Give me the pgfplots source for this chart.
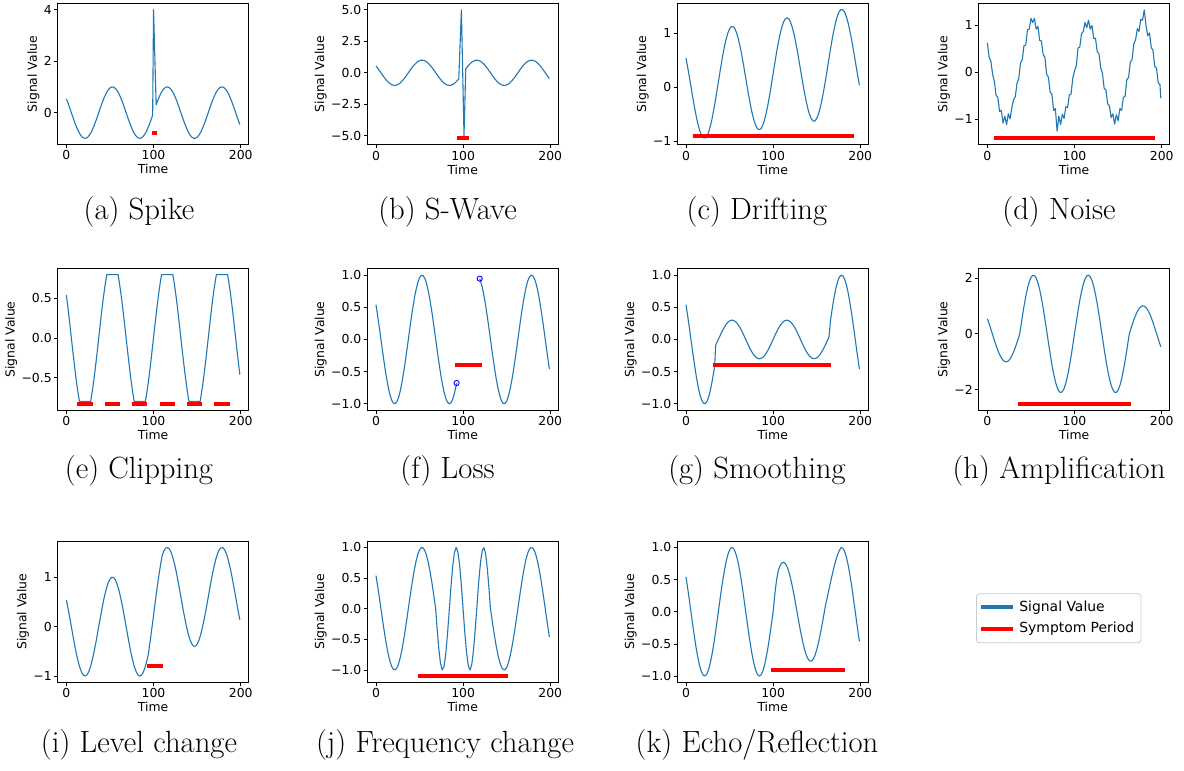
\documentclass[border=0pt]{standalone}
\usepackage{fontspec}
\usepackage{pgfplots}
\pgfplotsset{compat=1.18}
\newfontfamily\dv{DejaVu Sans}
\definecolor{mplblue}{HTML}{1F77B4}
\pgfplotsset{
  panel/.style={scale only axis, width=95.4pt, height=70.75pt, anchor=north west,
    xmin=-9.95, xmax=208.95, xtick={0,100,200}, xticklabels={0,100,200},
    tick pos=left, tick align=outside, major tick length=1.8pt,
    tick style={black, line width=0.4pt}, axis line style={black, line width=0.45pt},
    ticklabel style={font=\dv\fontsize{6.2}{7}\selectfont, inner sep=1pt},
    label style={font=\dv\fontsize{6.2}{7}\selectfont, inner sep=1pt},
    xlabel={Time}, ylabel={Signal Value}},
  sig/.style={mplblue, line width=0.55pt, line join=round, no markers},
  sym/.style={red, line width=2pt, line cap=rect, no markers},
  leg/.style={legend image code/.code={\draw[##1] (0pt,0pt) -- (16pt,0pt);}},
}
\newcommand{\capt}[1]{\fontsize{15.35}{18}\selectfont #1}
\begin{document}
\begin{tikzpicture}
\useasboundingbox (0,0) rectangle (592pt,-385.5pt);
% (a) Spike
\begin{axis}[panel, at={(28.85pt,-1.65pt)}, ymin=-1.25, ymax=4.25, ytick={0,2,4}, yticklabels={0,2,4}]
\addplot[sig] table[row sep=\\] {0 0.540\\ 2 0.362\\ 4 0.170\\ 6 -0.029\\ 8 -0.227\\ 10 -0.416\\ 12 -0.589\\ 14 -0.737\\ 16 -0.857\\ 18 -0.942\\ 20 -0.990\\ 22 -0.998\\ 24 -0.967\\ 26 -0.897\\ 28 -0.791\\ 30 -0.654\\ 32 -0.490\\ 34 -0.307\\ 36 -0.112\\ 38 0.088\\ 40 0.284\\ 42 0.469\\ 44 0.635\\ 46 0.776\\ 48 0.886\\ 50 0.960\\ 52 0.997\\ 54 0.993\\ 56 0.950\\ 58 0.869\\ 60 0.754\\ 62 0.608\\ 64 0.439\\ 66 0.251\\ 68 0.054\\ 70 -0.146\\ 72 -0.339\\ 74 -0.519\\ 76 -0.679\\ 78 -0.811\\ 80 -0.911\\ 82 -0.975\\ 84 -1.000\\ 86 -0.985\\ 88 -0.930\\ 90 -0.839\\ 92 -0.714\\ 94 -0.561\\ 96 -0.385\\ 98 -0.194\\ 99 -0.096\\ 100 4.0\\ 103 0.300\\ 104 0.394\\ 106 0.568\\ 108 0.720\\ 110 0.844\\ 112 0.934\\ 114 0.986\\ 116 0.999\\ 118 0.973\\ 120 0.907\\ 122 0.806\\ 124 0.672\\ 126 0.513\\ 128 0.331\\ 130 0.137\\ 132 -0.063\\ 134 -0.260\\ 136 -0.446\\ 138 -0.615\\ 140 -0.760\\ 142 -0.873\\ 144 -0.953\\ 146 -0.995\\ 148 -0.997\\ 150 -0.958\\ 152 -0.880\\ 154 -0.767\\ 156 -0.624\\ 158 -0.459\\ 160 -0.275\\ 162 -0.080\\ 164 0.121\\ 166 0.315\\ 168 0.499\\ 170 0.660\\ 172 0.799\\ 174 0.904\\ 176 0.969\\ 178 0.999\\ 180 0.989\\ 182 0.939\\ 184 0.852\\ 186 0.731\\ 188 0.581\\ 190 0.408\\ 192 0.219\\ 194 0.020\\ 196 -0.179\\ 198 -0.371\\ 199 -0.461\\};
\addplot[sym] coordinates {(100,-0.8) (102,-0.8)};
\end{axis}
% (b) S-Wave
\begin{axis}[panel, at={(183.65pt,-1.65pt)}, ymin=-5.71, ymax=5.51, ytick={-5,-2.5,0,2.5,5}, yticklabels={−5.0,−2.5,0.0,2.5,5.0}]
\addplot[sig] table[row sep=\\] {0 0.540\\ 2 0.362\\ 4 0.170\\ 6 -0.029\\ 8 -0.227\\ 10 -0.416\\ 12 -0.589\\ 14 -0.737\\ 16 -0.857\\ 18 -0.942\\ 20 -0.990\\ 22 -0.998\\ 24 -0.967\\ 26 -0.897\\ 28 -0.791\\ 30 -0.654\\ 32 -0.490\\ 34 -0.307\\ 36 -0.112\\ 38 0.088\\ 40 0.284\\ 42 0.469\\ 44 0.635\\ 46 0.776\\ 48 0.886\\ 50 0.960\\ 52 0.997\\ 54 0.993\\ 56 0.950\\ 58 0.869\\ 60 0.754\\ 62 0.608\\ 64 0.439\\ 66 0.251\\ 68 0.054\\ 70 -0.146\\ 72 -0.339\\ 74 -0.519\\ 76 -0.679\\ 78 -0.811\\ 80 -0.911\\ 82 -0.975\\ 84 -1.000\\ 86 -0.985\\ 88 -0.930\\ 90 -0.839\\ 92 -0.714\\ 94 -0.561\\ 95 -0.474\\ 98 5.0\\ 101 -5.0\\ 103 0.300\\ 104 0.394\\ 106 0.568\\ 108 0.720\\ 110 0.844\\ 112 0.934\\ 114 0.986\\ 116 0.999\\ 118 0.973\\ 120 0.907\\ 122 0.806\\ 124 0.672\\ 126 0.513\\ 128 0.331\\ 130 0.137\\ 132 -0.063\\ 134 -0.260\\ 136 -0.446\\ 138 -0.615\\ 140 -0.760\\ 142 -0.873\\ 144 -0.953\\ 146 -0.995\\ 148 -0.997\\ 150 -0.958\\ 152 -0.880\\ 154 -0.767\\ 156 -0.624\\ 158 -0.459\\ 160 -0.275\\ 162 -0.080\\ 164 0.121\\ 166 0.315\\ 168 0.499\\ 170 0.660\\ 172 0.799\\ 174 0.904\\ 176 0.969\\ 178 0.999\\ 180 0.989\\ 182 0.939\\ 184 0.852\\ 186 0.731\\ 188 0.581\\ 190 0.408\\ 192 0.219\\ 194 0.020\\ 196 -0.179\\ 198 -0.371\\ 199 -0.461\\};
\addplot[sym] coordinates {(95,-5.2) (104,-5.2)};
\end{axis}
% (c) Drifting
\begin{axis}[panel, at={(338.65pt,-1.65pt)}, ymin=-1.07, ymax=1.56, ytick={-1,0,1}, yticklabels={−1,0,1}]
\addplot[sig] table[row sep=\\] {0 0.540\\ 2 0.367\\ 4 0.180\\ 6 -0.014\\ 8 -0.207\\ 10 -0.391\\ 12 -0.559\\ 14 -0.702\\ 16 -0.817\\ 18 -0.897\\ 20 -0.940\\ 22 -0.943\\ 24 -0.907\\ 26 -0.832\\ 28 -0.721\\ 30 -0.579\\ 32 -0.410\\ 34 -0.222\\ 36 -0.022\\ 38 0.183\\ 40 0.384\\ 42 0.574\\ 44 0.745\\ 46 0.891\\ 48 1.006\\ 50 1.085\\ 52 1.127\\ 54 1.128\\ 56 1.090\\ 58 1.014\\ 60 0.904\\ 62 0.763\\ 64 0.599\\ 66 0.416\\ 68 0.224\\ 70 0.030\\ 72 -0.159\\ 74 -0.334\\ 76 -0.489\\ 78 -0.616\\ 80 -0.711\\ 82 -0.770\\ 84 -0.790\\ 86 -0.770\\ 88 -0.710\\ 90 -0.614\\ 92 -0.484\\ 94 -0.326\\ 96 -0.145\\ 98 0.051\\ 100 0.254\\ 102 0.458\\ 104 0.654\\ 106 0.833\\ 108 0.990\\ 110 1.119\\ 112 1.214\\ 114 1.271\\ 116 1.289\\ 118 1.268\\ 120 1.207\\ 122 1.111\\ 124 0.982\\ 126 0.828\\ 128 0.651\\ 130 0.462\\ 132 0.267\\ 134 0.075\\ 136 -0.106\\ 138 -0.270\\ 140 -0.410\\ 142 -0.518\\ 144 -0.593\\ 146 -0.630\\ 148 -0.627\\ 150 -0.583\\ 152 -0.500\\ 154 -0.382\\ 156 -0.234\\ 158 -0.064\\ 160 0.125\\ 162 0.326\\ 164 0.531\\ 166 0.730\\ 168 0.919\\ 170 1.085\\ 172 1.229\\ 174 1.339\\ 176 1.409\\ 178 1.444\\ 180 1.439\\ 182 1.394\\ 184 1.312\\ 186 1.196\\ 188 1.051\\ 190 0.883\\ 192 0.699\\ 194 0.505\\ 196 0.312\\ 198 0.124\\ 199 0.036\\};
\addplot[sym] coordinates {(10,-0.9) (190,-0.9)};
\end{axis}
% (d) Noise
\begin{axis}[panel, at={(489.35pt,-1.65pt)}, ymin=-1.55, ymax=1.46, ytick={-1,0,1}, yticklabels={−1,0,1}]
\addplot[sig] table[row sep=\\] {0 0.62\\ 2 0.31\\ 4 0.23\\ 6 -0.05\\ 8 -0.20\\ 10 -0.50\\ 12 -0.54\\ 14 -0.84\\ 16 -0.82\\ 18 -1.09\\ 20 -0.94\\ 22 -1.12\\ 24 -0.89\\ 26 -1.00\\ 28 -0.77\\ 30 -0.59\\ 32 -0.53\\ 34 -0.24\\ 36 -0.14\\ 38 0.19\\ 40 0.26\\ 42 0.56\\ 44 0.57\\ 46 0.90\\ 48 0.91\\ 50 1.14\\ 52 1.05\\ 54 1.14\\ 56 0.91\\ 58 0.97\\ 60 0.67\\ 62 0.66\\ 64 0.37\\ 66 0.31\\ 68 -0.05\\ 70 -0.11\\ 72 -0.43\\ 74 -0.47\\ 76 -0.82\\ 78 -0.78\\ 80 -1.26\\ 82 -0.94\\ 84 -1.12\\ 86 -0.90\\ 88 -0.99\\ 90 -0.74\\ 92 -0.76\\ 94 -0.49\\ 96 -0.47\\ 98 -0.13\\ 100 0.02\\ 102 0.13\\ 104 0.51\\ 106 0.53\\ 108 0.81\\ 110 0.86\\ 112 1.05\\ 114 0.94\\ 116 1.10\\ 118 0.91\\ 120 0.99\\ 122 0.71\\ 124 0.72\\ 126 0.43\\ 128 0.39\\ 130 0.09\\ 132 -0.03\\ 134 -0.35\\ 136 -0.38\\ 138 -0.68\\ 140 -0.72\\ 142 -0.97\\ 144 -0.89\\ 146 -1.11\\ 148 -0.91\\ 150 -1.04\\ 152 -0.78\\ 154 -0.82\\ 156 -0.54\\ 158 -0.52\\ 160 -0.16\\ 162 -0.12\\ 164 0.21\\ 166 0.26\\ 168 0.60\\ 170 0.68\\ 172 0.92\\ 174 0.86\\ 176 1.12\\ 178 1.10\\ 180 1.32\\ 182 0.99\\ 184 0.77\\ 186 0.83\\ 188 0.52\\ 190 0.46\\ 192 0.12\\ 194 0.08\\ 196 -0.23\\ 198 -0.27\\ 199 -0.56\\};
\addplot[sym] coordinates {(10,-1.4) (190,-1.4)};
\end{axis}
% (e) Clipping
\begin{axis}[panel, at={(28.85pt,-134.35pt)}, ymin=-0.912, ymax=0.874, ytick={-0.5,0,0.5}, yticklabels={−0.5,0.0,0.5}]
\addplot[sig] table[row sep=\\] {0 0.540\\ 2 0.362\\ 4 0.170\\ 6 -0.029\\ 8 -0.227\\ 10 -0.416\\ 12 -0.589\\ 14 -0.737\\ 15 -0.8\\ 27.85 -0.8\\ 28 -0.791\\ 30 -0.654\\ 32 -0.490\\ 34 -0.307\\ 36 -0.112\\ 38 0.088\\ 40 0.284\\ 42 0.469\\ 44 0.635\\ 46 0.776\\ 46.4 0.8\\ 59.3 0.8\\ 60 0.754\\ 62 0.608\\ 64 0.439\\ 66 0.251\\ 68 0.054\\ 70 -0.146\\ 72 -0.339\\ 74 -0.519\\ 76 -0.679\\ 77.8 -0.8\\ 90.7 -0.8\\ 92 -0.714\\ 94 -0.561\\ 96 -0.385\\ 98 -0.194\\ 100 0.004\\ 102 0.203\\ 104 0.394\\ 106 0.568\\ 108 0.720\\ 109.2 0.8\\ 122.1 0.8\\ 124 0.672\\ 126 0.513\\ 128 0.331\\ 130 0.137\\ 132 -0.063\\ 134 -0.260\\ 136 -0.446\\ 138 -0.615\\ 140 -0.760\\ 140.7 -0.8\\ 153.5 -0.8\\ 154 -0.767\\ 156 -0.624\\ 158 -0.459\\ 160 -0.275\\ 162 -0.080\\ 164 0.121\\ 166 0.315\\ 168 0.499\\ 170 0.660\\ 172.1 0.8\\ 185.0 0.8\\ 186 0.731\\ 188 0.581\\ 190 0.408\\ 192 0.219\\ 194 0.020\\ 196 -0.179\\ 198 -0.371\\ 199 -0.461\\};
\addplot[sym] coordinates {(15,-0.84) (27.85,-0.84)};
\addplot[sym] coordinates {(46.4,-0.84) (59.3,-0.84)};
\addplot[sym] coordinates {(77.8,-0.84) (90.7,-0.84)};
\addplot[sym] coordinates {(109.2,-0.84) (122.1,-0.84)};
\addplot[sym] coordinates {(140.7,-0.84) (153.5,-0.84)};
\addplot[sym] coordinates {(172.1,-0.84) (185,-0.84)};
\end{axis}
% (f) Loss
\begin{axis}[panel, at={(183.65pt,-134.35pt)}, ymin=-1.1, ymax=1.1, ytick={-1,-0.5,0,0.5,1}, yticklabels={−1.0,−0.5,0.0,0.5,1.0}]
\addplot[sig] table[row sep=\\] {0 0.540\\ 2 0.362\\ 4 0.170\\ 6 -0.029\\ 8 -0.227\\ 10 -0.416\\ 12 -0.589\\ 14 -0.737\\ 16 -0.857\\ 18 -0.942\\ 20 -0.990\\ 22 -0.998\\ 24 -0.967\\ 26 -0.897\\ 28 -0.791\\ 30 -0.654\\ 32 -0.490\\ 34 -0.307\\ 36 -0.112\\ 38 0.088\\ 40 0.284\\ 42 0.469\\ 44 0.635\\ 46 0.776\\ 48 0.886\\ 50 0.960\\ 52 0.997\\ 54 0.993\\ 56 0.950\\ 58 0.869\\ 60 0.754\\ 62 0.608\\ 64 0.439\\ 66 0.251\\ 68 0.054\\ 70 -0.146\\ 72 -0.339\\ 74 -0.519\\ 76 -0.679\\ 78 -0.811\\ 80 -0.911\\ 82 -0.975\\ 84 -1.000\\ 86 -0.985\\ 88 -0.930\\ 90 -0.839\\ 92 -0.714\\ 92.5 -0.678\\};
\addplot[sig] table[row sep=\\] {119 0.945\\ 120 0.907\\ 122 0.806\\ 124 0.672\\ 126 0.513\\ 128 0.331\\ 130 0.137\\ 132 -0.063\\ 134 -0.260\\ 136 -0.446\\ 138 -0.615\\ 140 -0.760\\ 142 -0.873\\ 144 -0.953\\ 146 -0.995\\ 148 -0.997\\ 150 -0.958\\ 152 -0.880\\ 154 -0.767\\ 156 -0.624\\ 158 -0.459\\ 160 -0.275\\ 162 -0.080\\ 164 0.121\\ 166 0.315\\ 168 0.499\\ 170 0.660\\ 172 0.799\\ 174 0.904\\ 176 0.969\\ 178 0.999\\ 180 0.989\\ 182 0.939\\ 184 0.852\\ 186 0.731\\ 188 0.581\\ 190 0.408\\ 192 0.219\\ 194 0.020\\ 196 -0.179\\ 198 -0.371\\ 199 -0.461\\};
\addplot[only marks, mark=o, mark size=1.3pt, blue, mark options={line width=0.45pt}] coordinates {(92.5,-0.678) (119,0.945)};
\addplot[sym] coordinates {(93,-0.4) (119,-0.4)};
\end{axis}
% (g) Smoothing
\begin{axis}[panel, at={(338.65pt,-134.35pt)}, ymin=-1.1, ymax=1.1, ytick={-1,-0.5,0,0.5,1}, yticklabels={−1.0,−0.5,0.0,0.5,1.0}]
\addplot[sig] table[row sep=\\] {0 0.540\\ 2 0.362\\ 4 0.170\\ 6 -0.029\\ 8 -0.227\\ 10 -0.416\\ 12 -0.589\\ 14 -0.737\\ 16 -0.857\\ 18 -0.942\\ 20 -0.990\\ 22 -0.998\\ 24 -0.967\\ 26 -0.897\\ 28 -0.791\\ 30 -0.654\\ 32 -0.490\\ 33 -0.401\\ 34 -0.092\\ 36 -0.034\\ 38 0.026\\ 40 0.085\\ 42 0.141\\ 44 0.190\\ 46 0.233\\ 48 0.266\\ 50 0.288\\ 52 0.299\\ 54 0.298\\ 56 0.285\\ 58 0.261\\ 60 0.226\\ 62 0.183\\ 64 0.132\\ 66 0.075\\ 68 0.016\\ 70 -0.044\\ 72 -0.102\\ 74 -0.156\\ 76 -0.204\\ 78 -0.243\\ 80 -0.273\\ 82 -0.292\\ 84 -0.300\\ 86 -0.295\\ 88 -0.279\\ 90 -0.252\\ 92 -0.214\\ 94 -0.168\\ 96 -0.116\\ 98 -0.058\\ 100 0.001\\ 102 0.061\\ 104 0.118\\ 106 0.171\\ 108 0.216\\ 110 0.253\\ 112 0.280\\ 114 0.296\\ 116 0.300\\ 118 0.292\\ 120 0.272\\ 122 0.242\\ 124 0.202\\ 126 0.154\\ 128 0.099\\ 130 0.041\\ 132 -0.019\\ 134 -0.078\\ 136 -0.134\\ 138 -0.185\\ 140 -0.228\\ 142 -0.262\\ 144 -0.286\\ 146 -0.298\\ 148 -0.299\\ 150 -0.287\\ 152 -0.264\\ 154 -0.230\\ 156 -0.187\\ 158 -0.138\\ 160 -0.083\\ 162 -0.024\\ 164 0.036\\ 166 0.315\\ 168 0.499\\ 170 0.660\\ 172 0.799\\ 174 0.904\\ 176 0.969\\ 178 0.999\\ 180 0.989\\ 182 0.939\\ 184 0.852\\ 186 0.731\\ 188 0.581\\ 190 0.408\\ 192 0.219\\ 194 0.020\\ 196 -0.179\\ 198 -0.371\\ 199 -0.461\\};
\addplot[sym] coordinates {(33,-0.4) (164,-0.4)};
\end{axis}
% (h) Amplification
\begin{axis}[panel, at={(489.35pt,-134.35pt)}, ymin=-2.73, ymax=2.33, ytick={-2,0,2}, yticklabels={−2,0,2}]
\addplot[sig] table[row sep=\\] {0 0.540\\ 2 0.362\\ 4 0.170\\ 6 -0.029\\ 8 -0.227\\ 10 -0.416\\ 12 -0.589\\ 14 -0.737\\ 16 -0.857\\ 18 -0.942\\ 20 -0.990\\ 22 -0.998\\ 24 -0.967\\ 26 -0.897\\ 28 -0.791\\ 30 -0.654\\ 32 -0.490\\ 34 -0.307\\ 36 -0.112\\ 37 -0.012\\ 38 0.184\\ 40 0.596\\ 42 0.984\\ 44 1.333\\ 46 1.629\\ 48 1.860\\ 50 2.016\\ 52 2.093\\ 54 2.086\\ 56 1.995\\ 58 1.826\\ 60 1.583\\ 62 1.278\\ 64 0.921\\ 66 0.528\\ 68 0.113\\ 70 -0.306\\ 72 -0.712\\ 74 -1.091\\ 76 -1.425\\ 78 -1.703\\ 80 -1.913\\ 82 -2.047\\ 84 -2.099\\ 86 -2.068\\ 88 -1.954\\ 90 -1.762\\ 92 -1.500\\ 94 -1.178\\ 96 -0.809\\ 98 -0.408\\ 100 0.009\\ 102 0.426\\ 104 0.826\\ 106 1.193\\ 108 1.513\\ 110 1.772\\ 112 1.961\\ 114 2.071\\ 116 2.099\\ 118 2.043\\ 120 1.906\\ 122 1.692\\ 124 1.412\\ 126 1.077\\ 128 0.696\\ 130 0.287\\ 132 -0.132\\ 134 -0.546\\ 136 -0.937\\ 138 -1.292\\ 140 -1.595\\ 142 -1.834\\ 144 -2.000\\ 146 -2.089\\ 148 -2.093\\ 150 -2.011\\ 152 -1.847\\ 154 -1.610\\ 156 -1.310\\ 158 -0.964\\ 160 -0.578\\ 162 -0.167\\ 163 0.021\\ 164 0.121\\ 166 0.315\\ 168 0.499\\ 170 0.660\\ 172 0.799\\ 174 0.904\\ 176 0.969\\ 178 0.999\\ 180 0.989\\ 182 0.939\\ 184 0.852\\ 186 0.731\\ 188 0.581\\ 190 0.408\\ 192 0.219\\ 194 0.020\\ 196 -0.179\\ 198 -0.371\\ 199 -0.461\\};
\addplot[sym] coordinates {(37,-2.5) (163,-2.5)};
\end{axis}
% (i) Level change
\begin{axis}[panel, at={(28.85pt,-270.5pt)}, ymin=-1.13, ymax=1.73, ytick={-1,0,1}, yticklabels={−1,0,1}]
\addplot[sig] table[row sep=\\] {0 0.540\\ 2 0.362\\ 4 0.170\\ 6 -0.029\\ 8 -0.227\\ 10 -0.416\\ 12 -0.589\\ 14 -0.737\\ 16 -0.857\\ 18 -0.942\\ 20 -0.990\\ 22 -0.998\\ 24 -0.967\\ 26 -0.897\\ 28 -0.791\\ 30 -0.654\\ 32 -0.490\\ 34 -0.307\\ 36 -0.112\\ 38 0.088\\ 40 0.284\\ 42 0.469\\ 44 0.635\\ 46 0.776\\ 48 0.886\\ 50 0.960\\ 52 0.997\\ 54 0.993\\ 56 0.950\\ 58 0.869\\ 60 0.754\\ 62 0.608\\ 64 0.439\\ 66 0.251\\ 68 0.054\\ 70 -0.146\\ 72 -0.339\\ 74 -0.519\\ 76 -0.679\\ 78 -0.811\\ 80 -0.911\\ 82 -0.975\\ 84 -1.000\\ 86 -0.985\\ 88 -0.930\\ 90 -0.839\\ 92 -0.714\\ 94 -0.561\\ 96 -0.310\\ 98 -0.044\\ 100 0.229\\ 102 0.503\\ 104 0.769\\ 106 1.018\\ 108 1.245\\ 110 1.444\\ 112 1.534\\ 114 1.586\\ 116 1.599\\ 118 1.573\\ 120 1.507\\ 122 1.406\\ 124 1.272\\ 126 1.113\\ 128 0.931\\ 130 0.737\\ 132 0.537\\ 134 0.340\\ 136 0.154\\ 138 -0.015\\ 140 -0.160\\ 142 -0.273\\ 144 -0.353\\ 146 -0.395\\ 148 -0.397\\ 150 -0.358\\ 152 -0.280\\ 154 -0.167\\ 156 -0.024\\ 158 0.141\\ 160 0.325\\ 162 0.520\\ 164 0.721\\ 166 0.915\\ 168 1.099\\ 170 1.260\\ 172 1.399\\ 174 1.504\\ 176 1.569\\ 178 1.599\\ 180 1.589\\ 182 1.539\\ 184 1.452\\ 186 1.331\\ 188 1.181\\ 190 1.008\\ 192 0.819\\ 194 0.620\\ 196 0.421\\ 198 0.229\\ 199 0.139\\};
\addplot[sym] coordinates {(95,-0.8) (109,-0.8)};
\end{axis}
% (j) Frequency change
\begin{axis}[panel, at={(183.65pt,-270.5pt)}, ymin=-1.205, ymax=1.105, ytick={-1,-0.5,0,0.5,1}, yticklabels={−1.0,−0.5,0.0,0.5,1.0}]
\addplot[sig] table[row sep=\\] {0 0.540\\ 2 0.362\\ 4 0.170\\ 6 -0.029\\ 8 -0.227\\ 10 -0.416\\ 12 -0.589\\ 14 -0.737\\ 16 -0.857\\ 18 -0.942\\ 20 -0.990\\ 22 -0.998\\ 24 -0.967\\ 26 -0.897\\ 28 -0.791\\ 30 -0.654\\ 32 -0.490\\ 34 -0.307\\ 36 -0.112\\ 38 0.088\\ 40 0.284\\ 42 0.469\\ 44 0.635\\ 46 0.776\\ 48 0.886\\ 50 0.960\\ 52 0.997\\ 54 0.993\\ 56 0.950\\ 58 0.869\\ 60 0.754\\ 62 0.608\\ 64 0.439\\ 66 0.251\\ 68 0.054\\ 68.5 0.0\\ 70 -0.296\\ 72 -0.644\\ 74 -0.891\\ 76 -0.998\\ 78 -0.946\\ 80 -0.746\\ 82 -0.427\\ 84 -0.042\\ 86 0.351\\ 88 0.688\\ 90 0.916\\ 92 1.000\\ 94 0.926\\ 96 0.706\\ 98 0.374\\ 100 -0.017\\ 102 -0.405\\ 104 -0.729\\ 106 -0.938\\ 108 -0.999\\ 110 -0.902\\ 112 -0.663\\ 114 -0.319\\ 116 0.075\\ 118 0.458\\ 120 0.768\\ 122 0.957\\ 124 0.995\\ 126 0.876\\ 128 0.618\\ 130 0.263\\ 131.3 0.0\\ 132 -0.063\\ 134 -0.260\\ 136 -0.446\\ 138 -0.615\\ 140 -0.760\\ 142 -0.873\\ 144 -0.953\\ 146 -0.995\\ 148 -0.997\\ 150 -0.958\\ 152 -0.880\\ 154 -0.767\\ 156 -0.624\\ 158 -0.459\\ 160 -0.275\\ 162 -0.080\\ 164 0.121\\ 166 0.315\\ 168 0.499\\ 170 0.660\\ 172 0.799\\ 174 0.904\\ 176 0.969\\ 178 0.999\\ 180 0.989\\ 182 0.939\\ 184 0.852\\ 186 0.731\\ 188 0.581\\ 190 0.408\\ 192 0.219\\ 194 0.020\\ 196 -0.179\\ 198 -0.371\\ 199 -0.461\\};
\addplot[sym] coordinates {(51,-1.1) (149,-1.1)};
\end{axis}
% (k) Echo/Reflection
\begin{axis}[panel, at={(338.65pt,-270.5pt)}, ymin=-1.1, ymax=1.1, ytick={-1,-0.5,0,0.5,1}, yticklabels={−1.0,−0.5,0.0,0.5,1.0}]
\addplot[sig] table[row sep=\\] {0 0.540\\ 2 0.362\\ 4 0.170\\ 6 -0.029\\ 8 -0.227\\ 10 -0.416\\ 12 -0.589\\ 14 -0.737\\ 16 -0.857\\ 18 -0.942\\ 20 -0.990\\ 22 -0.998\\ 24 -0.967\\ 26 -0.897\\ 28 -0.791\\ 30 -0.654\\ 32 -0.490\\ 34 -0.307\\ 36 -0.112\\ 38 0.088\\ 40 0.284\\ 42 0.469\\ 44 0.635\\ 46 0.776\\ 48 0.886\\ 50 0.960\\ 52 0.997\\ 54 0.993\\ 56 0.950\\ 58 0.869\\ 60 0.754\\ 62 0.608\\ 64 0.439\\ 66 0.251\\ 68 0.054\\ 70 -0.146\\ 72 -0.339\\ 74 -0.519\\ 76 -0.679\\ 78 -0.811\\ 80 -0.911\\ 82 -0.975\\ 84 -1.000\\ 86 -0.985\\ 88 -0.930\\ 90 -0.839\\ 92 -0.714\\ 94 -0.561\\ 96 -0.385\\ 98 -0.194\\ 100 0.004\\ 102 0.282\\ 104 0.500\\ 106 0.645\\ 108 0.719\\ 110 0.760\\ 112 0.770\\ 114 0.749\\ 116 0.699\\ 118 0.621\\ 120 0.518\\ 122 0.395\\ 124 0.255\\ 126 0.105\\ 128 -0.048\\ 130 -0.200\\ 132 -0.344\\ 134 -0.474\\ 136 -0.585\\ 138 -0.672\\ 140 -0.733\\ 142 -0.766\\ 144 -0.767\\ 146 -0.737\\ 148 -0.677\\ 150 -0.590\\ 152 -0.481\\ 154 -0.354\\ 156 -0.212\\ 158 -0.061\\ 160 0.093\\ 162 0.218\\ 164 0.344\\ 166 0.470\\ 168 0.590\\ 170 0.705\\ 172 0.804\\ 174 0.889\\ 176 0.954\\ 178 0.999\\ 180 0.989\\ 182 0.939\\ 184 0.852\\ 186 0.731\\ 188 0.581\\ 190 0.408\\ 192 0.219\\ 194 0.020\\ 196 -0.179\\ 198 -0.371\\ 199 -0.461\\};
\addplot[sym] coordinates {(100,-0.9) (180,-0.9)};
\end{axis}
% legend
\begin{axis}[at={(488pt,-296.65pt)}, anchor=north west, hide axis, scale only axis, width=10pt, height=10pt, xmin=0, xmax=1, ymin=0, ymax=1,
  legend style={at={(0,1)}, anchor=north west, draw=black!20, rounded corners=1.5pt, font=\dv\fontsize{6.95}{8}\selectfont, inner xsep=1.5pt, inner ysep=1.5pt},
  legend cell align=left]
\addlegendimage{leg, mplblue, line width=2pt}
\addlegendentry{Signal Value}
\addlegendimage{leg, red, line width=2pt}
\addlegendentry{Symptom Period}
\end{axis}
% captions
\node[anchor=base, inner sep=0] at (69.5pt,-109.5pt) {\capt{(a) Spike}};
\node[anchor=base, inner sep=0] at (223.75pt,-109.5pt) {\capt{(b) S-Wave}};
\node[anchor=base, inner sep=0] at (378.5pt,-109.5pt) {\capt{(c) Drifting}};
\node[anchor=base, inner sep=0] at (529.5pt,-109.5pt) {\capt{(d) Noise}};
\node[anchor=base, inner sep=0] at (69.5pt,-239pt) {\capt{(e) Clipping}};
\node[anchor=base, inner sep=0] at (223.75pt,-239pt) {\capt{(f) Loss}};
\node[anchor=base, inner sep=0] at (378.5pt,-239pt) {\capt{(g) Smoothing}};
\node[anchor=base, inner sep=0] at (529.5pt,-239pt) {\capt{(h) Amplification}};
\node[anchor=base, inner sep=0] at (69.5pt,-376pt) {\capt{(i) Level change}};
\node[anchor=base, inner sep=0] at (222.5pt,-376pt) {\capt{(j) Frequency change}};
\node[anchor=base, inner sep=0] at (378.5pt,-376pt) {\capt{(k) Echo/Reflection}};
\end{tikzpicture}
\end{document}
